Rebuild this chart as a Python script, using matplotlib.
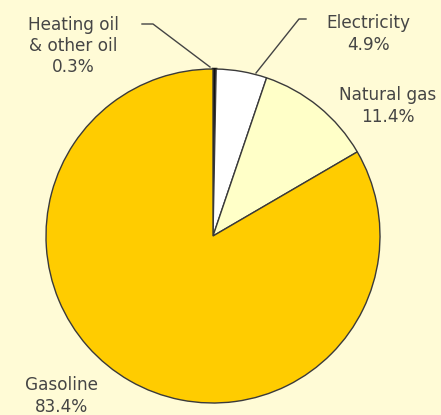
import matplotlib.pyplot as plt

labels = ["Heating oil\n& other oil", "Electricity", "Natural gas", "Gasoline"]
shares = [0.3, 4.9, 11.4, 83.4]
colors = ["#111111", "#ffffff", "#ffffc8", "#ffcc00"]

bg = "#fffbd6"
text_color = "#454545"

W, H = 441, 415
fig = plt.figure(figsize=(W / 100, H / 100), dpi=100, facecolor=bg)
ax = fig.add_axes([0, 0, 1, 1])
ax.set_facecolor(bg)

# pie in pixel coordinates (y flipped)
cx, cy, r = 213, H - 236, 167
wedges, _ = ax.pie(shares, colors=colors, startangle=90, counterclock=False,
                   center=(cx, cy), radius=r,
                   wedgeprops=dict(edgecolor="#3a3a3a", linewidth=1.0))
# the tiny black slice looks a bit heavier in the original
wedges[0].set_edgecolor("#111111")
wedges[0].set_linewidth(1.8)
ax.set_xlim(0, W)
ax.set_ylim(0, H)
ax.set_aspect("equal")
ax.axis("off")

fs = 12.2
ax.text(73, H - 46, "%s\n%.1f%%" % (labels[0], shares[0]), ha="center", va="center",
        fontsize=fs, color=text_color, linespacing=1.25)
ax.text(368, H - 34, "%s\n%.1f%%" % (labels[1], shares[1]), ha="center", va="center",
        fontsize=fs, color=text_color, linespacing=1.25)
ax.text(388, H - 106, "%s\n%.1f%%" % (labels[2], shares[2]), ha="center", va="center",
        fontsize=fs, color=text_color, linespacing=1.25)
ax.text(61, H - 396, "%s\n%.1f%%" % (labels[3], shares[3]), ha="center", va="center",
        fontsize=fs, color=text_color, linespacing=1.25)

# leader lines
ax.plot([142, 153, 210], [H - 24, H - 24, H - 67], color="#444444", lw=1)
ax.plot([306, 299, 256], [H - 19, H - 19, H - 73], color="#444444", lw=1)

fig.savefig("out.png", dpi=100, facecolor=bg)
